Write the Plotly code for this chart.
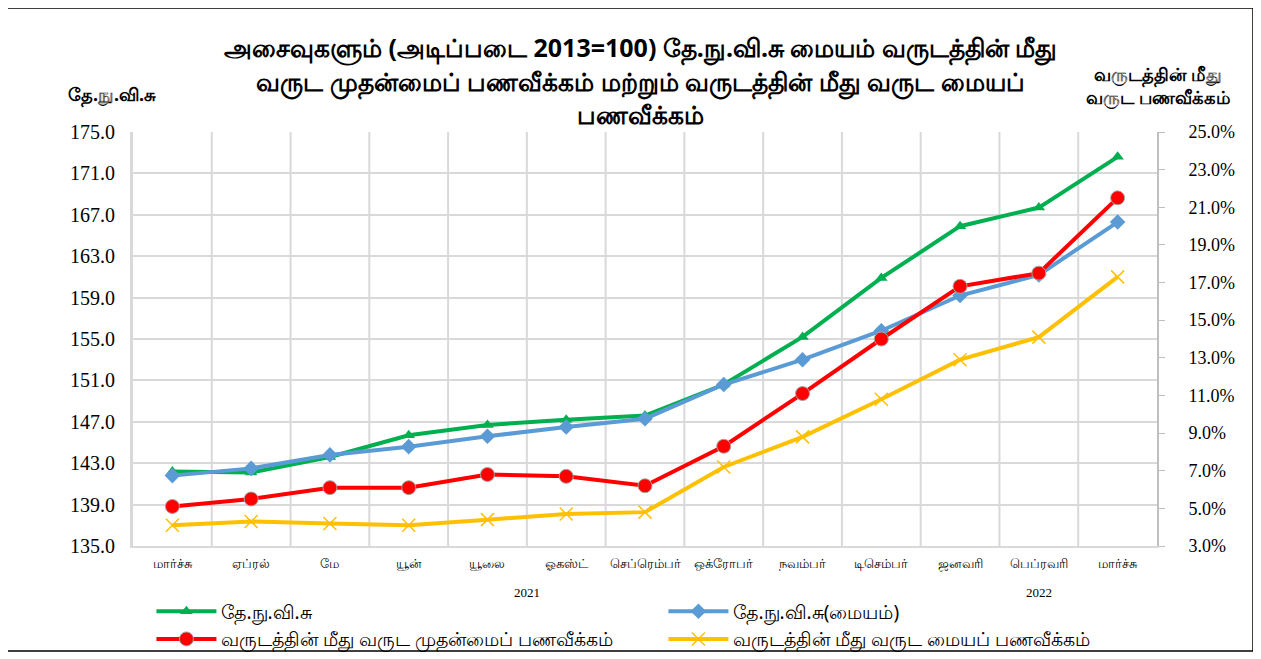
import plotly.graph_objects as go

months = ["மார்ச்சு", "ஏப்ரல்", "மே", "யூன்", "யூலை", "ஓகஸ்ட்", "செப்ரெம்பர்",
          "ஒக்ரோபர்", "நவம்பர்", "டிசெம்பர்", "ஜனவரி", "பெப்ரவரி", "மார்ச்சு"]
years = ["2021", "2022"]
year_centers = [4.5, 11]

ccpi = [142.2, 142.1, 143.6, 145.7, 146.7, 147.2, 147.6, 150.6, 155.2, 160.9, 165.9, 167.7, 172.6]
ccpi_core = [141.8, 142.5, 143.8, 144.6, 145.6, 146.5, 147.3, 150.6, 153.0, 155.8, 159.2, 161.2, 166.3]
headline_yoy = [5.1, 5.5, 6.1, 6.1, 6.8, 6.7, 6.2, 8.3, 11.1, 14.0, 16.8, 17.5, 21.5]
core_yoy = [4.1, 4.3, 4.2, 4.1, 4.4, 4.7, 4.8, 7.2, 8.8, 10.8, 12.9, 14.1, 17.3]

names = ["தே.நு.வி.சு", "தே.நு.வி.சு(மையம்)",
         "வருடத்தின் மீது வருட முதன்மைப் பணவீக்கம்",
         "வருடத்தின் மீது வருட மையப் பணவீக்கம்"]

x = list(range(len(months)))

fig = go.Figure()
fig.add_trace(go.Scatter(x=x, y=ccpi, name=names[0], mode="lines+markers",
                         line=dict(color="#00B050", width=4),
                         marker=dict(symbol="triangle-up", size=11, color="#00B050")))
fig.add_trace(go.Scatter(x=x, y=ccpi_core, name=names[1], mode="lines+markers",
                         line=dict(color="#5B9BD5", width=4),
                         marker=dict(symbol="diamond", size=12, color="#5B9BD5")))
fig.add_trace(go.Scatter(x=x, y=headline_yoy, name=names[2], mode="lines+markers", yaxis="y2",
                         line=dict(color="#FF0000", width=4),
                         marker=dict(symbol="circle", size=14, color="#FF0000",
                                     line=dict(color="#A6A6A6", width=1))))
fig.add_trace(go.Scatter(x=x, y=core_yoy, name=names[3], mode="lines+markers", yaxis="y2",
                         line=dict(color="#FFC000", width=4),
                         marker=dict(symbol="x-thin", size=13, color="#FFC000",
                                     line=dict(color="#FFC000", width=1.5))))

serif = "Liberation Serif, Times New Roman, serif"
tamil = "Noto Sans, DejaVu Sans, sans-serif"

# The page adds an 8px body margin, so the figure is 8px smaller and margins shifted.
fig.update_layout(
    width=1253, height=651,
    margin=dict(l=125, r=104, t=124, b=113, autoexpand=False),
    paper_bgcolor="white", plot_bgcolor="white",
    showlegend=True,
    legend=dict(orientation="h", x=0.018, y=-0.112, xanchor="left", yanchor="top",
                entrywidth=0.5, entrywidthmode="fraction", bgcolor="rgba(0,0,0,0)",
                font=dict(family=tamil, size=19, color="black"),
                tracegroupgap=0, itemwidth=60),
    xaxis=dict(tickmode="array", tickvals=x, ticktext=months, range=[-0.5, 12.5],
               showgrid=False, showline=True, linecolor="#D9D9D9", linewidth=2,
               tickfont=dict(family=tamil, size=13, color="black"),
               ticks="", ticklabelstandoff=4, zeroline=False),
    yaxis=dict(range=[135, 175], dtick=4, tick0=135, tickformat=".1f",
               showgrid=True, gridcolor="#D9D9D9", gridwidth=2,
               showline=True, linecolor="#D9D9D9", linewidth=3,
               tickfont=dict(family=serif, size=20, color="black"),
               ticks="", ticklabelstandoff=11, zeroline=False),
    yaxis2=dict(range=[3, 25], dtick=2, tick0=3, overlaying="y", side="right",
                tickformat=".1f", ticksuffix="%", showgrid=False,
                showline=True, linecolor="#BFBFBF", linewidth=2,
                ticks="outside", ticklen=6, tickcolor="#BFBFBF",
                tickfont=dict(family=serif, size=18, color="black"),
                ticklabelstandoff=20, zeroline=False),
)

# vertical gridlines between categories
for i in range(1, len(months)):
    fig.add_shape(type="line", xref="x", yref="paper", x0=i - 0.5, x1=i - 0.5, y0=0, y1=1,
                  line=dict(color="#D9D9D9", width=2), layer="below")

# year labels
for yr, c in zip(years, year_centers):
    fig.add_annotation(x=c, y=(546 - 592) / 414, xref="x", yref="paper", text=yr, showarrow=False,
                       font=dict(family=serif, size=13, color="black"),
                       xanchor="center", yanchor="middle")

# title lines
title_lines = ["அசைவுகளும் (அடிப்படை 2013=100) தே.நு.வி.சு மையம் வருடத்தின் மீது",
               "வருட முதன்மைப் பணவீக்கம் மற்றும் வருடத்தின் மீது வருட மையப்",
               "பணவீக்கம்"]
for line, py in zip(title_lines, [48, 82, 114]):
    fig.add_annotation(x=(640 - 133) / 1024, y=(546 - py) / 414, xref="paper", yref="paper",
                       text="<b>" + line + "</b>", showarrow=False,
                       font=dict(family=tamil, size=25, color="black"),
                       xanchor="center", yanchor="middle")

# axis titles
fig.add_annotation(x=(112 - 133) / 1024, y=(546 - 95) / 414, xref="paper", yref="paper",
                   text="<b>தே.நு.வி.சு</b>", showarrow=False,
                   font=dict(family=tamil, size=18, color="black"),
                   xanchor="center", yanchor="middle")
fig.add_annotation(x=(1158 - 133) / 1024, y=(546 - 86) / 414, xref="paper", yref="paper",
                   text="<b>வருடத்தின் மீது<br>வருட பணவீக்கம்</b>", showarrow=False,
                   font=dict(family=tamil, size=18, color="black"),
                   xanchor="center", yanchor="middle")

# outer border
fig.add_shape(type="rect", xref="paper", yref="paper",
              x0=(7 - 133) / 1024, x1=(1253 - 133) / 1024,
              y0=(546 - 651) / 414, y1=(546 - 8) / 414,
              line=dict(color="black", width=1.5))

fig.write_html("out.html")
